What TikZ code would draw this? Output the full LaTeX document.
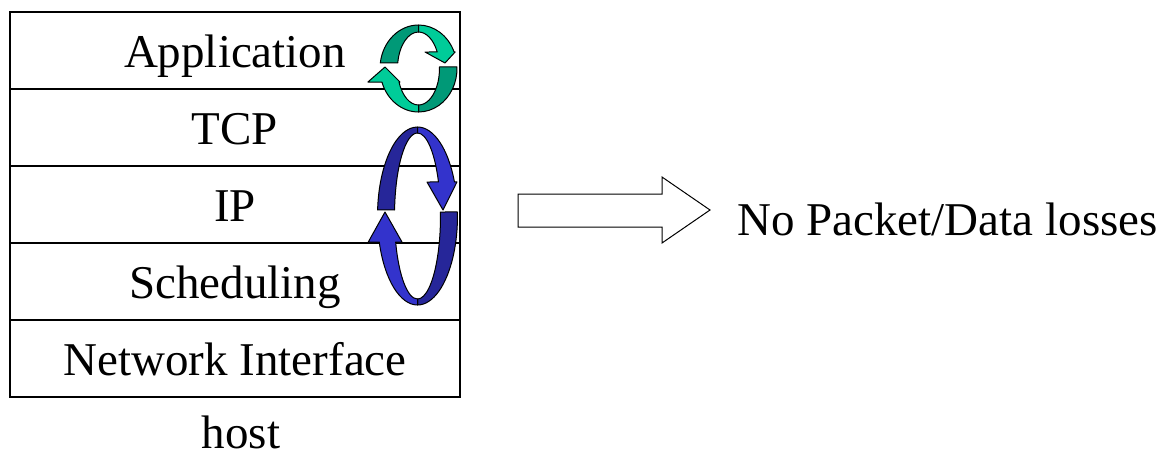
\documentclass[tikz,border=0pt]{standalone}
\usepackage{fontspec}
\setmainfont{Liberation Serif}
\usepackage{tikz}
\usetikzlibrary{calc}
\usetikzlibrary{positioning}
\definecolor{greenlight}{RGB}{0,204,153}
\definecolor{greendark}{RGB}{0,153,119}
\definecolor{bluelight}{RGB}{51,51,204}
\definecolor{bluedark}{RGB}{38,38,153}
\tikzset{layer/.style={draw, line width=0.7pt, minimum width=225pt, minimum height=38.5pt, inner sep=0pt, outer sep=0pt, text height=27.5pt, text depth=11pt, font=\fontsize{23.5}{28}\selectfont}}
\tikzset{bigtext/.style={inner sep=0pt, font=\fontsize{23.5}{28}\selectfont}}
\tikzset{ring/.style={draw=black, line width=0.5pt, line join=round}}

\begin{document}
\begin{tikzpicture} [x=0.5pt, y=0.5pt]
\useasboundingbox (0,0) rectangle (1163,-456);
\node[layer] (app) at (235,-50.5) {Application};
\foreach \name/\txt [remember=\name as \prev (initially app)] in {tcp/TCP, ip/IP, sched/Scheduling, nif/Network Interface} {
  \node[layer, below=0pt of \prev] (\name) {\txt};
}
\node[bigtext, anchor=base, text depth=0pt] (host) at (241,-448) {host};

\coordinate (gc) at (418.5,-68.5);
\fill[greendark, ring] ($(gc)+(90:38.5 and 43.5)$) arc[start angle=90, end angle=172.7, x radius=38.5, y radius=43.5] -- ($(gc)+(171.3:21 and 36.5)$) arc[start angle=171.3, end angle=90, x radius=21, y radius=36.5] -- cycle;
\fill[greendark, ring] ($(gc)+(2:38.5 and 43.5)$) arc[start angle=2, end angle=-90, x radius=38.5, y radius=43.5] -- ($(gc)+(-90:21 and 36.5)$) arc[start angle=-90, end angle=2.4, x radius=21, y radius=36.5] -- cycle;
\fill[greenlight, ring] ($(gc)+(90:38.5 and 43.5)$) arc[start angle=90, end angle=22.3, x radius=38.5, y radius=43.5] -- ++(1,0) -- ($(gc)+(26.5,5.5)$) -- ($(gc)+(6.5,16.5)$) -- ($(gc)+(26.9:21 and 36.5)$) arc[start angle=26.9, end angle=90, x radius=21, y radius=36.5] -- cycle;
\fill[greenlight, ring] ($(gc)+(201.7:21 and 36.5)$) arc[start angle=201.7, end angle=270, x radius=21, y radius=36.5] -- ($(gc)+(270:38.5 and 43.5)$) arc[start angle=270, end angle=198.1, x radius=38.5, y radius=43.5] -- ++(-14,0) -- ($(gc)+(-33.5,1.5)$) -- ($(gc)+(-18.5,-13.5)$) -- cycle;

\coordinate (bc) at (417.5,-216);
\fill[bluedark, ring] ($(bc)+(90:40 and 89)$) arc[start angle=90, end angle=176.1, x radius=40, y radius=89] -- ($(bc)+(175.85:23 and 83)$) arc[start angle=175.85, end angle=90, x radius=23, y radius=83] -- cycle;
\fill[bluedark, ring] ($(bc)+(2.6:40 and 89)$) arc[start angle=2.6, end angle=-90, x radius=40, y radius=89] -- ($(bc)+(-90:23 and 83)$) arc[start angle=-90, end angle=2.76, x radius=23, y radius=83] -- cycle;
\fill[bluelight, ring] ($(bc)+(90:40 and 89)$) arc[start angle=90, end angle=22.5, x radius=40, y radius=89] -- ++(2.5,0) -- ($(bc)+(25.5,6)$) -- ($(bc)+(9.5,34)$) -- ($(bc)+(24.2:23 and 83)$) arc[start angle=24.2, end angle=90, x radius=23, y radius=83] -- cycle;
\fill[bluelight, ring] ($(bc)+(198.26:23 and 83)$) arc[start angle=198.26, end angle=270, x radius=23, y radius=83] -- ($(bc)+(270:40 and 89)$) arc[start angle=270, end angle=197, x radius=40, y radius=89] -- ++(-11,0) -- ($(bc)+(-32.5,4)$) -- ($(bc)+(-15.5,-26)$) -- cycle;

\node[bigtext, anchor=base west] (loss) at (737,-235) {No Packet/Data losses};
\draw[line width=0.5pt] (518,-194) -- (662,-194) -- (662,-177) -- (710,-210) -- (662,-243) -- (662,-227) -- (518,-227) -- cycle;
\end{tikzpicture}
\end{document}
